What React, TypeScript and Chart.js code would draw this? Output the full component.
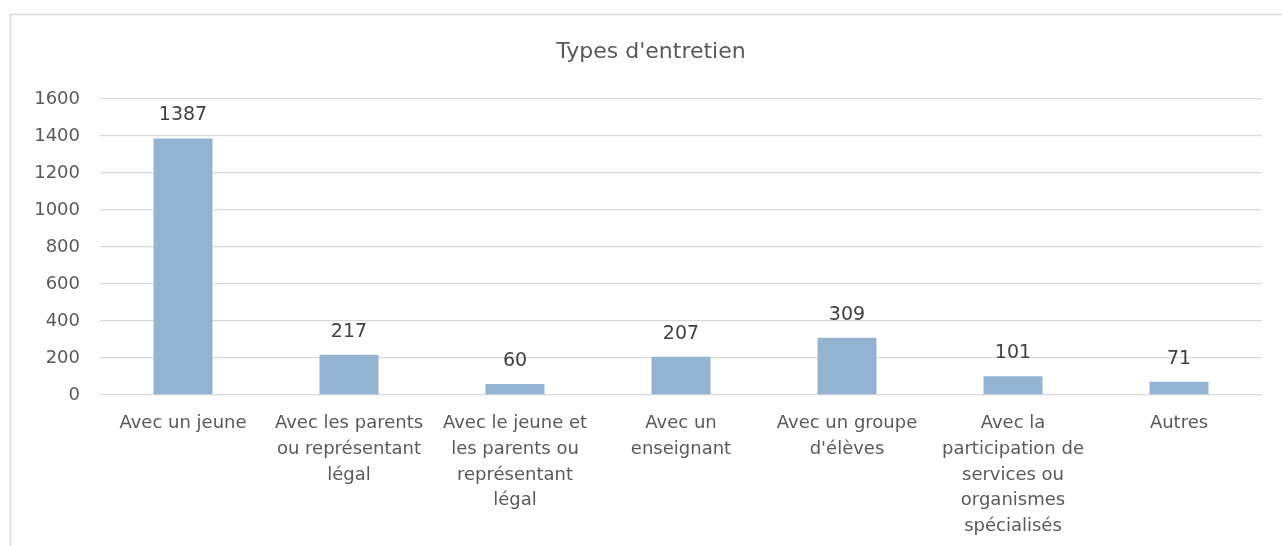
import React, { useEffect, useRef } from "react";
import { Chart, registerables } from "chart.js";

Chart.register(...registerables);

const title = "Types d'entretien";
const categories: (string | string[])[] = [
  "Avec un jeune",
  ["Avec les parents", "ou représentant", "légal"],
  ["Avec le jeune et", "les parents ou", "représentant", "légal"],
  ["Avec un", "enseignant"],
  ["Avec un groupe", "d'élèves"],
  ["Avec la", "participation de", "services ou", "organismes", "spécialisés"],
  "Autres",
];
const values = [1387, 217, 60, 207, 309, 101, 71];
const yTicks = [0, 200, 400, 600, 800, 1000, 1200, 1400, 1600];

const FONT = "'DejaVu Sans', sans-serif";

export default function App() {
  const ref = useRef<HTMLCanvasElement | null>(null);
  useEffect(() => {
    if (!ref.current) return;
    const frame = {
      id: "frame",
      beforeDraw(chart: any) {
        const ctx = chart.ctx;
        ctx.save();
        ctx.fillStyle = "#ffffff";
        ctx.fillRect(0, 0, chart.width, chart.height);
        ctx.strokeStyle = "#d9d9d9";
        ctx.lineWidth = 1.5;
        ctx.strokeRect(10.5, 14.5, 1400, 700);
        ctx.fillStyle = "#595959";
        ctx.font = `22px ${FONT}`;
        ctx.textAlign = "center";
        ctx.textBaseline = "middle";
        ctx.fillText(title, 651, 52);
        ctx.restore();
      },
    };
    const labelsPlugin = {
      id: "vals",
      afterDatasetsDraw(chart: any) {
        const ctx = chart.ctx;
        const meta = chart.getDatasetMeta(0);
        ctx.save();
        ctx.fillStyle = "#404040";
        ctx.font = `19px ${FONT}`;
        ctx.textAlign = "center";
        ctx.textBaseline = "middle";
        meta.data.forEach((bar: any, i: number) => {
          ctx.fillText(String(values[i]), bar.x, bar.y - 23);
        });
        ctx.restore();
      },
    };
    const chart = new Chart(ref.current, {
      type: "bar",
      data: {
        labels: categories,
        datasets: [
          {
            data: values,
            backgroundColor: "#94b3d1",
            borderWidth: 0,
            barPercentage: 0.355,
            categoryPercentage: 1,
          },
        ],
      },
      options: {
        responsive: false,
        animation: false,
        layout: { padding: { top: 99, right: 20, left: 0, bottom: 0 } },
        plugins: {
          legend: { display: false },
          title: { display: false },
          tooltip: { enabled: false },
        },
        scales: {
          x: {
            grid: { display: false, drawTicks: false },
            border: { display: false },
            ticks: {
              color: "#595959",
              font: { family: FONT, size: 18, lineHeight: 1.42 },
              maxRotation: 0,
              minRotation: 0,
              autoSkip: false,
              padding: 16,
            },
            afterFit(scale: any) {
              scale.height = 151;
            },
          },
          y: {
            min: 0,
            max: 1600,
            afterBuildTicks(scale: any) {
              scale.ticks = yTicks.map((v) => ({ value: v }));
            },
            grid: { color: "#d9d9d9", lineWidth: 1.3, drawTicks: false },
            border: { display: false },
            ticks: {
              color: "#595959",
              font: { family: FONT, size: 18 },
              padding: 20,
              callback: (v: any) => String(v),
            },
            afterFit(scale: any) {
              scale.width = 100;
            },
          },
        },
      },
      plugins: [frame, labelsPlugin],
    });
    return () => chart.destroy();
  }, []);
  return (
    <div style={{ position: "fixed", left: 0, top: 0, width: 1282, height: 546 }}>
      <canvas ref={ref} width={1282} height={546} />
    </div>
  );
}
